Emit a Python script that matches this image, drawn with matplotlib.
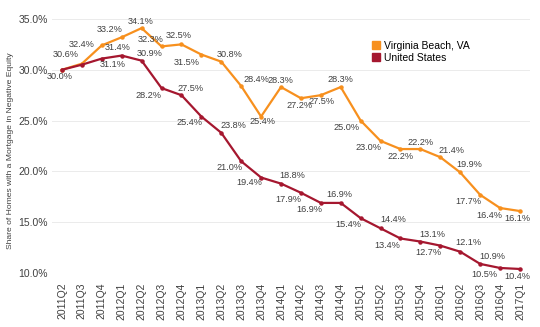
import matplotlib
matplotlib.use("Agg")
import matplotlib.pyplot as plt
from matplotlib.patches import Patch

plt.rcParams['font.family'] = ['Liberation Sans', 'DejaVu Sans']

quarters = ['2011Q2', '2011Q3', '2011Q4', '2012Q1', '2012Q2', '2012Q3', '2012Q4',
            '2013Q1', '2013Q2', '2013Q3', '2013Q4', '2014Q1', '2014Q2', '2014Q3',
            '2014Q4', '2015Q1', '2015Q2', '2015Q3', '2015Q4', '2016Q1', '2016Q2',
            '2016Q3', '2016Q4', '2017Q1']

virginia_beach = [30.0, 30.6, 32.4, 33.2, 34.1, 32.3, 32.5, 31.5, 30.8, 28.4, 25.4, 28.3,
                  27.2, 27.5, 28.3, 25.0, 23.0, 22.2, 22.2, 21.4, 19.9, 17.7, 16.4, 16.1]
united_states = [30.0, 30.5, 31.1, 31.4, 30.9, 28.2, 27.5, 25.4, 23.8, 21.0, 19.4, 18.8,
                 17.9, 16.9, 16.9, 15.4, 14.4, 13.4, 13.1, 12.7, 12.1, 10.9, 10.5, 10.4]

# label offsets in pixels (dx, dy), None = no label
va_off = [(-2, -7), (-16, 9), (-20, 1), (-12, 8), (-1, 7), (-11, 7), (-3, 9), (-15, -8),
          (8, 7), (15, 7), (1, -5), (-1, 7), (-1, -7), (1, -6), (0, 8), (-14, -7),
          (-12, -7), (0, -7), (0, 7), (11, 7), (9, 8), (-12, -7), (-11, -7), (-3, -7)]
us_off = [None, None, (11, -6), (-4, 8), (8, 7), (-13, -7), (9, 7), (-12, -6), (12, 7),
          (-12, -6), (-12, -5), (11, 8), (-13, -7), (-11, -7), (-1, 8), (-12, -6),
          (13, 9), (-13, -7), (12, 7), (-12, -7), (8, 9), (12, 7), (-16, -7), (-3, -8)]

orange = '#F7901E'
red = '#A5172F'
txt = '#404040'

fig = plt.figure(figsize=(5.4, 3.27), dpi=100)
ax = fig.add_axes([0.0963, 0.165, 0.885, 0.777])

x = list(range(len(quarters)))
ax.plot(x, virginia_beach, color=orange, lw=1.6, marker='o', ms=2.2, zorder=3)
ax.plot(x, united_states, color=red, lw=1.6, marker='o', ms=2.2, zorder=3)

for vals, offs in [(virginia_beach, va_off), (united_states, us_off)]:
    for xi, v, o in zip(x, vals, offs):
        if o is None:
            continue
        ax.annotate(f'{v:.1f}%', (xi, v), xytext=o, textcoords='offset pixels',
                    ha='center', va='center', fontsize=6.6, color=txt)

ax.set_xlim(-0.5, len(quarters) - 0.5)
ax.set_ylim(10, 35)
ax.set_yticks([10, 15, 20, 25, 30, 35])
ax.set_yticklabels([f'{t:.1f}%' for t in [10, 15, 20, 25, 30, 35]], fontsize=7.5, color=txt)
ax.set_xticks(x)
ax.set_xticklabels(quarters, rotation=90, fontsize=7.5, color=txt)
ax.tick_params(axis='x', length=0, pad=7)
ax.tick_params(axis='y', length=0, pad=3)
ax.grid(axis='y', color='#EBEBEB', lw=0.7)
ax.set_axisbelow(True)
for s in ax.spines.values():
    s.set_visible(False)
ax.set_ylabel('Share of Homes with a Mortgage in Negative Equity', fontsize=6.1, color=txt)
ax.yaxis.set_label_coords(-0.08, 0.48)

handles = [Patch(color=orange, label='Virginia Beach, VA'),
           Patch(color=red, label='United States')]
ax.legend(handles=handles, loc='upper left', bbox_to_anchor=(0.66, 0.93), frameon=False,
          fontsize=7.5, handlelength=0.8, handleheight=0.8, handletextpad=0.4,
          labelspacing=0.2, borderaxespad=0)

fig.savefig('out.png', dpi=100)
